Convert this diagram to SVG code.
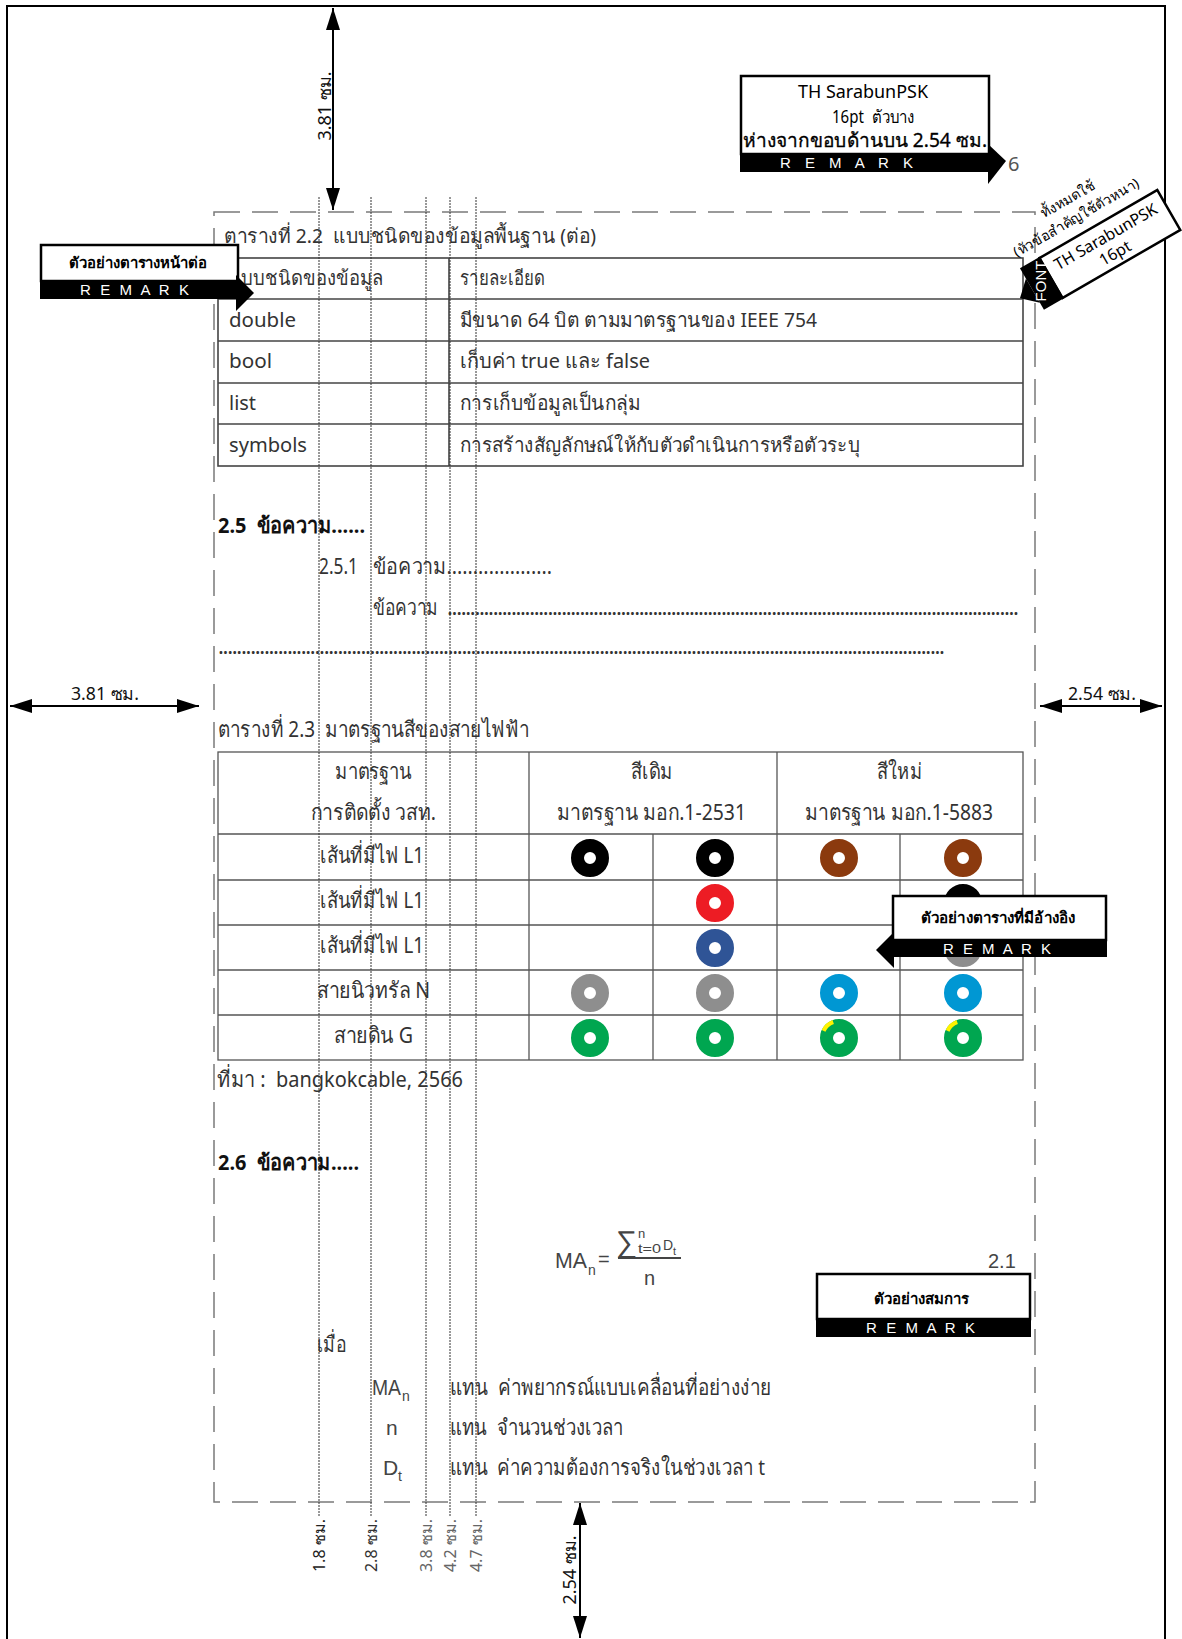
<svg xmlns="http://www.w3.org/2000/svg" width="1182" height="1639" viewBox="0 0 1182 1639">
<style>
.t{font-family:"Noto Sans","DejaVu Sans",sans-serif;font-size:20px;fill:#333;white-space:pre}
.c{font-family:"Noto Sans","DejaVu Sans",sans-serif;font-size:22px;fill:#333;white-space:pre}
.b{font-weight:bold;fill:#111}
.eq{font-family:"Liberation Sans","DejaVu Sans",sans-serif;fill:#444}
.tick{font-family:"Noto Sans","DejaVu Sans",sans-serif;font-size:16px}
.dim{font-family:"Noto Sans","DejaVu Sans",sans-serif;font-size:18px;fill:#111}
.rt{font-family:"Noto Sans","DejaVu Sans",sans-serif;font-size:15px;font-weight:bold;fill:#000}
.rm{font-family:"Liberation Sans","DejaVu Sans",sans-serif;font-size:15px;fill:#fff}
.box{fill:#fff;stroke:#000;stroke-width:2.5}
.band{fill:#000}
.grid{stroke:#444;stroke-width:1.6;fill:none}
.grid2{stroke:#555;stroke-width:1.3;fill:none}
.guide{stroke:#333;stroke-width:1;stroke-dasharray:2 1}
.ring{fill:none;stroke-width:13}
.arrow{stroke:#000;stroke-width:2;fill:none}
</style>
<defs>
<marker id="ah" markerUnits="userSpaceOnUse" markerWidth="22" markerHeight="14" refX="22" refY="7" orient="auto-start-reverse">
<path d="M0,0 L22,7 L0,14 z" fill="#000"/>
</marker>
</defs>

<g id="frame">
<rect x="7" y="6" width="1158" height="1660" fill="none" stroke="#000" stroke-width="2"/>
<rect x="214" y="212" width="821" height="1290" fill="none" stroke="#7a7a7a" stroke-width="1.5" stroke-dasharray="26 12"/>
</g>

<g id="table22">
<text class="t" x="224" y="243" textLength="372" lengthAdjust="spacingAndGlyphs">ตารางที่ 2.2  แบบชนิดของข้อมูลพื้นฐาน (ต่อ)</text>
<rect class="grid" x="218" y="258" width="805" height="208"/>
<line class="grid" x1="218" y1="299" x2="1023" y2="299"/>
<line class="grid" x1="218" y1="341" x2="1023" y2="341"/>
<line class="grid" x1="218" y1="383" x2="1023" y2="383"/>
<line class="grid" x1="218" y1="424" x2="1023" y2="424"/>
<line class="grid" x1="449" y1="258" x2="449" y2="466"/>
<text class="t" x="229" y="285" textLength="154" lengthAdjust="spacingAndGlyphs">แบบชนิดของข้อมูล</text>
<text class="t" x="460" y="285" textLength="85" lengthAdjust="spacingAndGlyphs">รายละเอียด</text>
<text class="t" x="229" y="327" textLength="67" lengthAdjust="spacingAndGlyphs">double</text>
<text class="t" x="229" y="368" textLength="43" lengthAdjust="spacingAndGlyphs">bool</text>
<text class="t" x="229" y="410" textLength="27" lengthAdjust="spacingAndGlyphs">list</text>
<text class="t" x="229" y="452" textLength="78" lengthAdjust="spacingAndGlyphs">symbols</text>
<text class="t" x="460" y="327" textLength="357" lengthAdjust="spacingAndGlyphs">มีขนาด 64 บิต ตามมาตรฐานของ IEEE 754</text>
<text class="t" x="460" y="368" textLength="190" lengthAdjust="spacingAndGlyphs">เก็บค่า true และ false</text>
<text class="t" x="460" y="410" textLength="180" lengthAdjust="spacingAndGlyphs">การเก็บข้อมูลเป็นกลุ่ม</text>
<text class="t" x="460" y="452" textLength="400" lengthAdjust="spacingAndGlyphs">การสร้างสัญลักษณ์ให้กับตัวดำเนินการหรือตัวระบุ</text>
</g>

<g id="section25">
<text class="c b" x="218" y="533" textLength="147" lengthAdjust="spacingAndGlyphs">2.5  ข้อความ......</text>
<text class="c" x="319" y="574" textLength="39" lengthAdjust="spacingAndGlyphs">2.5.1</text>
<text class="c" x="373" y="574" textLength="179" lengthAdjust="spacingAndGlyphs">ข้อความ....................</text>
<text class="c" x="373" y="615" textLength="65" lengthAdjust="spacingAndGlyphs">ข้อความ</text>
<text class="c" x="447" y="615" textLength="572" lengthAdjust="spacing">.............................................................................................................................</text>
<text class="c" x="218" y="654" textLength="727" lengthAdjust="spacing">..............................................................................................................................................................</text>
</g>

<g id="table23">
<text class="c" x="218" y="737" textLength="311" lengthAdjust="spacingAndGlyphs">ตารางที่ 2.3  มาตรฐานสีของสายไฟฟ้า</text>
<rect class="grid2" x="218" y="752" width="805" height="308"/>
<line class="grid2" x1="218" y1="834" x2="1023" y2="834"/>
<line class="grid2" x1="218" y1="880" x2="1023" y2="880"/>
<line class="grid2" x1="218" y1="925" x2="1023" y2="925"/>
<line class="grid2" x1="218" y1="970" x2="1023" y2="970"/>
<line class="grid2" x1="218" y1="1015" x2="1023" y2="1015"/>
<line class="grid2" x1="529" y1="752" x2="529" y2="1060"/>
<line class="grid2" x1="777" y1="752" x2="777" y2="1060"/>
<line class="grid2" x1="653" y1="834" x2="653" y2="1060"/>
<line class="grid2" x1="900" y1="834" x2="900" y2="1060"/>
<text class="c" x="335" y="779" textLength="77" lengthAdjust="spacingAndGlyphs">มาตรฐาน</text>
<text class="c" x="311" y="820" textLength="125" lengthAdjust="spacingAndGlyphs">การติดตั้ง วสท.</text>
<text class="c" x="631" y="779" textLength="42" lengthAdjust="spacingAndGlyphs">สีเดิม</text>
<text class="c" x="557" y="820" textLength="189" lengthAdjust="spacingAndGlyphs">มาตรฐาน มอก.1-2531</text>
<text class="c" x="877" y="779" textLength="45" lengthAdjust="spacingAndGlyphs">สีใหม่</text>
<text class="c" x="805" y="820" textLength="188" lengthAdjust="spacingAndGlyphs">มาตรฐาน มอก.1-5883</text>
<text class="c" x="320" y="863" textLength="104" lengthAdjust="spacingAndGlyphs">เส้นที่มีไฟ L1</text>
<text class="c" x="320" y="908" textLength="104" lengthAdjust="spacingAndGlyphs">เส้นที่มีไฟ L1</text>
<text class="c" x="320" y="953" textLength="104" lengthAdjust="spacingAndGlyphs">เส้นที่มีไฟ L1</text>
<text class="c" x="317" y="998" textLength="113" lengthAdjust="spacingAndGlyphs">สายนิวทรัล N</text>
<text class="c" x="334" y="1043" textLength="79" lengthAdjust="spacingAndGlyphs">สายดิน G</text>
<circle class="ring" cx="590" cy="858" r="12.5" stroke="#000"/>
<circle class="ring" cx="715" cy="858" r="12.5" stroke="#000"/>
<circle class="ring" cx="839" cy="858" r="12.5" stroke="#8B3A0E"/>
<circle class="ring" cx="963" cy="858" r="12.5" stroke="#8B3A0E"/>
<circle class="ring" cx="715" cy="903" r="12.5" stroke="#ED1C24"/>
<circle class="ring" cx="963" cy="903" r="12.5" stroke="#000"/>
<circle class="ring" cx="715" cy="948" r="12.5" stroke="#2F5496"/>
<circle class="ring" cx="963" cy="948" r="12.5" stroke="#8E8E8E"/>
<circle class="ring" cx="590" cy="993" r="12.5" stroke="#8E8E8E"/>
<circle class="ring" cx="715" cy="993" r="12.5" stroke="#8E8E8E"/>
<circle class="ring" cx="839" cy="993" r="12.5" stroke="#0097D3"/>
<circle class="ring" cx="963" cy="993" r="12.5" stroke="#0097D3"/>
<circle class="ring" cx="590" cy="1038" r="12.5" stroke="#00A650"/>
<circle class="ring" cx="715" cy="1038" r="12.5" stroke="#00A650"/>
<circle class="ring" cx="839" cy="1038" r="12.5" stroke="#00A650"/>
<circle class="ring" cx="963" cy="1038" r="12.5" stroke="#00A650"/>
<path d="M823.6,1030.8 A17,17 0 0 1 833.2,1022" fill="none" stroke="#FFF200" stroke-width="4"/>
<path d="M947.6,1030.8 A17,17 0 0 1 957.2,1022" fill="none" stroke="#FFF200" stroke-width="4"/>
<text class="c" x="217" y="1087" textLength="246" lengthAdjust="spacingAndGlyphs">ที่มา :  bangkokcable, 2566</text>
</g>

<g id="section26">
<text class="c b" x="218" y="1170" textLength="141" lengthAdjust="spacingAndGlyphs">2.6  ข้อความ.....</text>
<text class="eq" x="555" y="1268" font-size="22" textLength="32" lengthAdjust="spacingAndGlyphs">MA</text>
<text class="eq" x="588" y="1275" font-size="14">n</text>
<text class="eq" x="598" y="1266" font-size="20">=</text>
<line x1="618" y1="1258" x2="681" y2="1258" stroke="#444" stroke-width="2"/>
<text class="eq" x="616" y="1252" font-size="30">∑</text>
<text class="eq" x="638" y="1238" font-size="13">n</text>
<text class="eq" x="638" y="1253" font-size="13" textLength="23" lengthAdjust="spacingAndGlyphs">t=0</text>
<text class="eq" x="663" y="1250" font-size="14">D</text>
<text class="eq" x="673" y="1255" font-size="11">t</text>
<text class="eq" x="644" y="1285" font-size="20">n</text>
<text class="eq" x="988" y="1268" font-size="20">2.1</text>
<text class="c" x="317" y="1352" textLength="29" lengthAdjust="spacingAndGlyphs">เมื่อ</text>
<text class="eq" x="372" y="1395" font-size="22" textLength="29" lengthAdjust="spacingAndGlyphs">MA</text>
<text class="eq" x="402" y="1401" font-size="14">n</text>
<text class="c" x="450" y="1395" textLength="321" lengthAdjust="spacingAndGlyphs">แทน  ค่าพยากรณ์แบบเคลื่อนที่อย่างง่าย</text>
<text class="eq" x="386" y="1435" font-size="21">n</text>
<text class="c" x="450" y="1435" textLength="173" lengthAdjust="spacingAndGlyphs">แทน  จำนวนช่วงเวลา</text>
<text class="eq" x="383" y="1475" font-size="21">D</text>
<text class="eq" x="398" y="1481" font-size="14">t</text>
<text class="c" x="450" y="1475" textLength="315" lengthAdjust="spacingAndGlyphs">แทน  ค่าความต้องการจริงในช่วงเวลา t</text>
</g>

<g id="guides">
<line class="guide" x1="319" y1="197" x2="319" y2="1517"/>
<line class="guide" x1="371" y1="197" x2="371" y2="1517"/>
<line class="guide" x1="426" y1="197" x2="426" y2="1517"/>
<line class="guide" x1="450" y1="197" x2="450" y2="1517"/>
<line class="guide" x1="476" y1="197" x2="476" y2="1517"/>
<text class="tick" transform="translate(325,1519) rotate(-90)" text-anchor="end" fill="#222">1.8 ซม.</text>
<text class="tick" transform="translate(377,1519) rotate(-90)" text-anchor="end" fill="#333">2.8 ซม.</text>
<text class="tick" transform="translate(432,1519) rotate(-90)" text-anchor="end" fill="#666">3.8 ซม.</text>
<text class="tick" transform="translate(456,1519) rotate(-90)" text-anchor="end" fill="#666">4.2 ซม.</text>
<text class="tick" transform="translate(482,1519) rotate(-90)" text-anchor="end" fill="#666">4.7 ซม.</text>
</g>

<g id="remark-next-page">
<rect class="box" x="41" y="245" width="197" height="36"/>
<rect class="band" x="40" y="280" width="199" height="19"/>
<polygon class="band" points="236,275 254,293 236,311"/>
<text class="rt" x="69" y="268" textLength="138" lengthAdjust="spacingAndGlyphs">ตัวอย่างตารางหน้าต่อ</text>
<text class="rm" x="80" y="295" textLength="109" lengthAdjust="spacing">R E M A R K</text>
</g>

<g id="remark-page-number">
<rect class="box" x="741" y="76" width="248" height="78"/>
<rect class="band" x="740" y="154" width="250" height="18"/>
<polygon class="band" points="988,144 1006,161 988,184"/>
<text class="t" x="798" y="98" textLength="130" lengthAdjust="spacingAndGlyphs" style="fill:#000;font-size:18px">TH SarabunPSK</text>
<text class="t" x="832" y="123" textLength="83" lengthAdjust="spacingAndGlyphs" style="fill:#000;font-size:18px">16pt  ตัวบาง</text>
<text class="t" x="743" y="147" textLength="244" lengthAdjust="spacingAndGlyphs" style="fill:#000;font-size:19px;stroke:#000;stroke-width:0.3">ห่างจากขอบด้านบน 2.54 ซม.</text>
<text class="rm" x="780" y="168" textLength="133" lengthAdjust="spacing">R E M A R K</text>
<text class="t" x="1008" y="171" style="fill:#555">6</text>
</g>

<g id="remark-font" transform="translate(1051,278) rotate(-30)">
<rect class="box" x="0" y="-23" width="136" height="46"/>
<rect class="band" x="-22" y="-24" width="23" height="48"/>
<polygon class="band" points="-22,-12 -37,2 -22,16"/>
<text class="rm" transform="translate(-6,0) rotate(-60)" text-anchor="middle" font-size="13">FONT</text>
<text class="t" x="68" y="-3" text-anchor="middle" style="fill:#000;font-size:16px">TH SarabunPSK</text>
<text class="t" x="68" y="16" text-anchor="middle" style="fill:#000;font-size:16px">16pt</text>
<text class="t" x="52" y="-35" text-anchor="middle" style="fill:#000;font-size:14px">(หัวข้อสำคัญใช้ตัวหนา)</text>
<text class="t" x="54" y="-55" text-anchor="middle" style="fill:#000;font-size:14px">ทั้งหมดใช้</text>
</g>

<g id="remark-reference">
<rect class="box" x="893" y="896" width="213" height="44"/>
<rect class="band" x="892" y="939" width="215" height="18"/>
<polygon class="band" points="894,932 876,950 894,968"/>
<text class="rt" x="921" y="923" textLength="154" lengthAdjust="spacingAndGlyphs">ตัวอย่างตารางที่มีอ้างอิง</text>
<text class="rm" x="943" y="954" textLength="108" lengthAdjust="spacing">R E M A R K</text>
</g>

<g id="remark-equation">
<rect class="box" x="817" y="1274" width="213" height="45"/>
<rect class="band" x="816" y="1318" width="215" height="19"/>
<text class="rt" x="874" y="1304" textLength="95" lengthAdjust="spacingAndGlyphs">ตัวอย่างสมการ</text>
<text class="rm" x="866" y="1333" textLength="109" lengthAdjust="spacing">R E M A R K</text>
</g>

<g id="connectors">
<line class="arrow" x1="333" y1="8" x2="333" y2="210" marker-start="url(#ah)" marker-end="url(#ah)"/>
<line class="arrow" x1="10" y1="706" x2="199" y2="706" marker-start="url(#ah)" marker-end="url(#ah)"/>
<line class="arrow" x1="1040" y1="706" x2="1162" y2="706" marker-start="url(#ah)" marker-end="url(#ah)"/>
<line class="arrow" x1="580" y1="1503" x2="580" y2="1638" marker-start="url(#ah)" marker-end="url(#ah)"/>
<text class="dim" transform="translate(331,106) rotate(-90)" text-anchor="middle">3.81 ซม.</text>
<text class="dim" x="71" y="700" textLength="68" lengthAdjust="spacingAndGlyphs">3.81 ซม.</text>
<text class="dim" x="1068" y="700" textLength="68" lengthAdjust="spacingAndGlyphs">2.54 ซม.</text>
<text class="dim" transform="translate(576,1570) rotate(-90)" text-anchor="middle">2.54 ซม.</text>
</g>
</svg>
